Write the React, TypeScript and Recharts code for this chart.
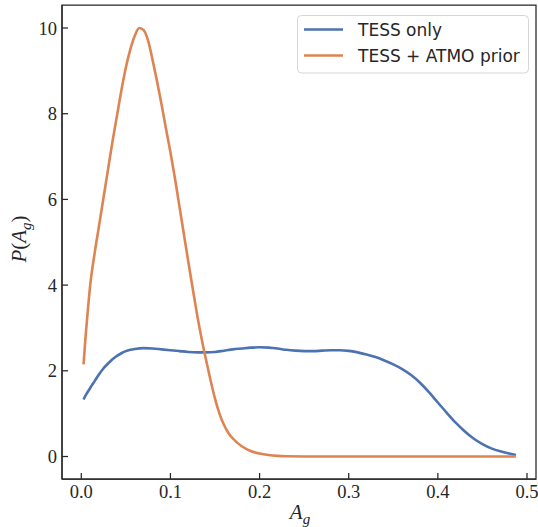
import React from 'react';
import { LineChart, Line, XAxis, YAxis, Legend, Label, ReferenceArea } from 'recharts';

const tessOnlyX = [0.0025, 0.005, 0.01, 0.015, 0.02, 0.025, 0.03, 0.035, 0.04, 0.045, 0.05, 0.055, 0.06, 0.07, 0.08, 0.09, 0.1, 0.11, 0.12, 0.13, 0.14, 0.15, 0.16, 0.17, 0.18, 0.19, 0.2, 0.21, 0.22, 0.23, 0.24, 0.25, 0.26, 0.27, 0.28, 0.29, 0.3, 0.31, 0.32, 0.33, 0.34, 0.35, 0.36, 0.37, 0.38, 0.39, 0.4, 0.41, 0.42, 0.43, 0.44, 0.45, 0.46, 0.47, 0.48, 0.4875];
const tessOnlyY = [1.33, 1.43, 1.6, 1.76, 1.92, 2.06, 2.17, 2.27, 2.35, 2.41, 2.46, 2.49, 2.51, 2.53, 2.52, 2.5, 2.48, 2.46, 2.44, 2.43, 2.43, 2.44, 2.47, 2.5, 2.52, 2.54, 2.55, 2.54, 2.52, 2.49, 2.47, 2.46, 2.46, 2.47, 2.48, 2.48, 2.465, 2.43, 2.38, 2.32, 2.24, 2.15, 2.04, 1.9, 1.72, 1.5, 1.26, 1.02, 0.79, 0.59, 0.42, 0.29, 0.19, 0.12, 0.07, 0.035];

const atmoX = [0.0025, 0.005, 0.0075, 0.01, 0.015, 0.02, 0.025, 0.03, 0.035, 0.04, 0.045, 0.05, 0.055, 0.06, 0.065, 0.07, 0.075, 0.08, 0.085, 0.09, 0.095, 0.1, 0.105, 0.11, 0.115, 0.12, 0.125, 0.13, 0.135, 0.14, 0.145, 0.15, 0.155, 0.16, 0.165, 0.17, 0.18, 0.19, 0.2, 0.21, 0.22, 0.23, 0.25, 0.3, 0.35, 0.4, 0.45, 0.4875];
const atmoY = [2.15, 2.85, 3.45, 4.0, 4.75, 5.4, 6.05, 6.7, 7.35, 7.95, 8.55, 9.08, 9.5, 9.82, 10.0, 9.95, 9.7, 9.25, 8.75, 8.22, 7.65, 7.1, 6.5, 5.85, 5.2, 4.55, 3.92, 3.3, 2.75, 2.25, 1.78, 1.35, 1.0, 0.74, 0.55, 0.42, 0.24, 0.13, 0.07, 0.035, 0.015, 0.005, 0.001, 0, 0, 0, 0, 0];

const xTicks = [0, 0.1, 0.2, 0.3, 0.4, 0.5];
const xTickLabels = ['0.0', '0.1', '0.2', '0.3', '0.4', '0.5'];
const yTicks = [0, 2, 4, 6, 8, 10];
const yTickLabels = ['0', '2', '4', '6', '8', '10'];
const seriesNames = ['TESS only', 'TESS + ATMO prior'];
const seriesColors = ['#4c72b0', '#dd8452'];

const tessOnlyData = tessOnlyX.map((x, i) => ({ x, y: tessOnlyY[i] }));
const atmoData = atmoX.map((x, i) => ({ x, y: atmoY[i] }));

const INK = '#262626';
const SERIF = '"Liberation Serif", serif';
const SANS = '"DejaVu Sans", sans-serif';
const X_DOMAIN: [number, number] = [-0.02165, 0.5101];
const Y_DOMAIN: [number, number] = [-0.525, 10.537];

const XTick = (props: any) => {
  const { x, y, payload } = props;
  const i = xTicks.indexOf(payload.value);
  const label = i >= 0 ? xTickLabels[i] : String(payload.value);
  return (
    <g>
      <line x1={x} x2={x} y1={y} y2={y - 6} stroke={INK} strokeWidth={1.25} />
      <text x={x} y={y + 19} textAnchor="middle" fill={INK} fontFamily={SERIF} fontSize={18.5}>
        {label}
      </text>
    </g>
  );
};

const YTick = (props: any) => {
  const { x, y, payload } = props;
  const i = yTicks.indexOf(payload.value);
  const label = i >= 0 ? yTickLabels[i] : String(payload.value);
  return (
    <g>
      <line x1={x} x2={x + 6} y1={y} y2={y} stroke={INK} strokeWidth={1.25} />
      <text x={x - 5} y={y + 6.5} textAnchor="end" fill={INK} fontFamily={SERIF} fontSize={18.5}>
        {label}
      </text>
    </g>
  );
};

const LegendBox = (props: any) => {
  const payload = [...(props.payload || [])].sort(
    (a: any, b: any) => seriesNames.indexOf(a.value) - seriesNames.indexOf(b.value)
  );
  return (
    <svg width={232} height={59} style={{ display: 'block' }}>
      <rect x={0.5} y={0.5} width={231} height={57.5} rx={4} ry={4} fill="#ffffff" stroke="#d6d6d6" strokeWidth={1} />
      {payload.map((p: any, i: number) => (
        <g key={i}>
          <line x1={7} x2={46} y1={14.5 + i * 26} y2={14.5 + i * 26} stroke={p.color} strokeWidth={2.6} />
          <text x={61} y={21 + i * 26} fill={INK} fontFamily={SANS} fontSize={17}>
            {p.value}
          </text>
        </g>
      ))}
    </svg>
  );
};

export default function App() {
  return (
    <div style={{ position: 'absolute', left: 0, top: 0, width: 538, height: 527, background: '#ffffff' }}>
      <LineChart width={538} height={527} margin={{ top: 5, right: 2, bottom: 0, left: 0 }}>
        <XAxis
          xAxisId="main"
          dataKey="x"
          type="number"
          domain={X_DOMAIN}
          allowDataOverflow
          ticks={xTicks}
          interval={0}
          height={48}
          tickSize={0}
          tickMargin={0}
          tickLine={false}
          tick={<XTick />}
          axisLine={{ stroke: INK, strokeWidth: 1.25 }}
        >
          <Label
            content={() => (
              <text x={300} y={518.5} textAnchor="middle" fill={INK} fontFamily={SERIF} fontSize={21}>
                <tspan fontStyle="italic">A</tspan>
                <tspan fontStyle="italic" fontSize={15} dy={5}>g</tspan>
              </text>
            )}
          />
        </XAxis>
        <YAxis
          yAxisId="main"
          type="number"
          domain={Y_DOMAIN}
          allowDataOverflow
          ticks={yTicks}
          interval={0}
          width={62}
          tickSize={0}
          tickMargin={0}
          tickLine={false}
          tick={<YTick />}
          axisLine={{ stroke: INK, strokeWidth: 1.25 }}
        >
          <Label
            content={() => (
              <text
                x={25.5}
                y={239}
                transform="rotate(-90 25.5 239)"
                textAnchor="middle"
                fill={INK}
                fontFamily={SERIF}
                fontSize={21}
              >
                <tspan fontStyle="italic">P</tspan>
                <tspan>(</tspan>
                <tspan fontStyle="italic">A</tspan>
                <tspan fontStyle="italic" fontSize={15} dy={5}>g</tspan>
                <tspan dy={-5}>)</tspan>
              </text>
            )}
          />
        </YAxis>
        <ReferenceArea
          xAxisId="main"
          yAxisId="main"
          x1={X_DOMAIN[0]}
          x2={X_DOMAIN[1]}
          y1={Y_DOMAIN[0]}
          y2={Y_DOMAIN[1]}
          fill="none"
          fillOpacity={0}
          stroke={INK}
          strokeWidth={1.25}
          ifOverflow="visible"
        />
        <Legend
          layout="horizontal"
          verticalAlign="middle"
          align="center"
          content={<LegendBox />}
          wrapperStyle={{ position: 'absolute', left: 297, top: 15, width: 232, height: 59 }}
        />
        <Line
          xAxisId="main"
          yAxisId="main"
          data={tessOnlyData}
          dataKey="y"
          name={seriesNames[0]}
          type="monotone"
          stroke={seriesColors[0]}
          strokeWidth={2.6}
          dot={false}
          activeDot={false}
          isAnimationActive={false}
        />
        <Line
          xAxisId="main"
          yAxisId="main"
          data={atmoData}
          dataKey="y"
          name={seriesNames[1]}
          type="monotone"
          stroke={seriesColors[1]}
          strokeWidth={2.6}
          dot={false}
          activeDot={false}
          isAnimationActive={false}
        />
      </LineChart>
    </div>
  );
}
